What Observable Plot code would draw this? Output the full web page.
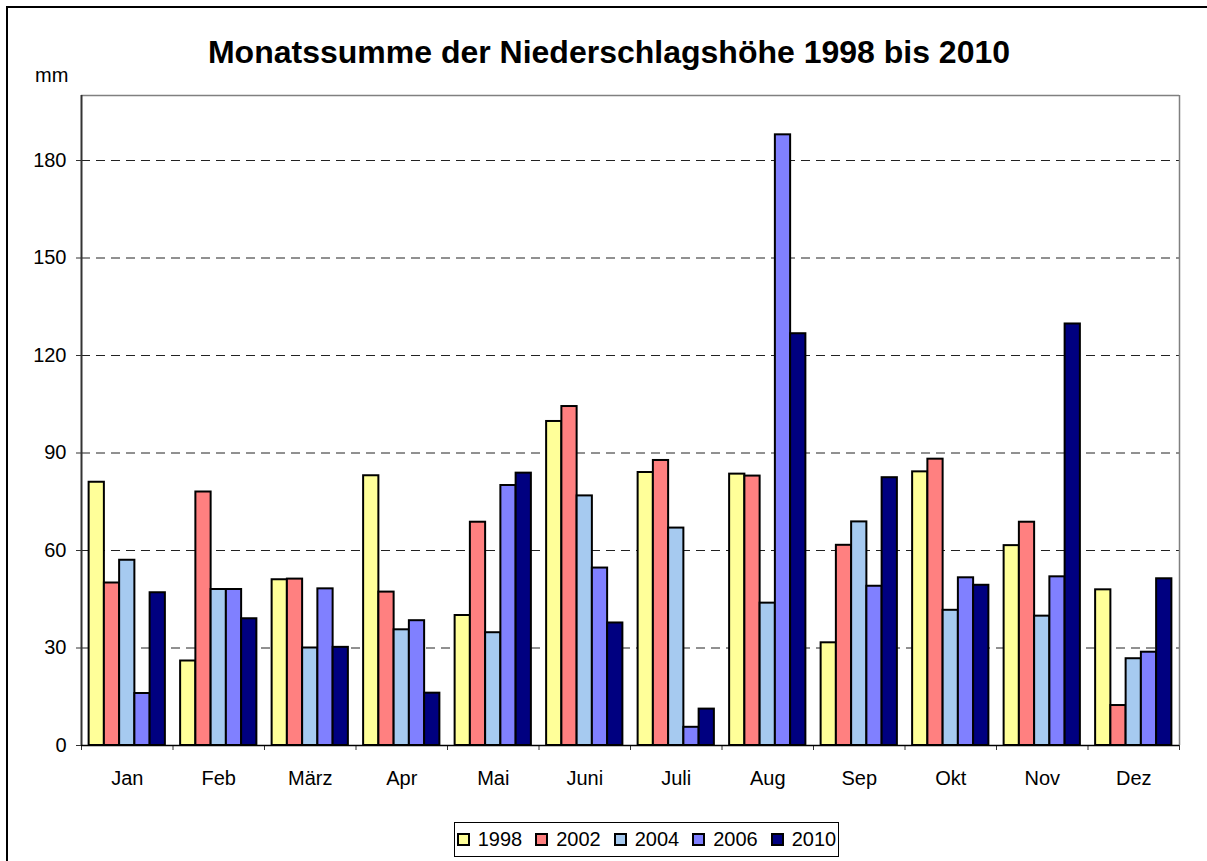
<!DOCTYPE html>
<html>
<head>
<meta charset="utf-8">
<script src="https://cdn.jsdelivr.net/npm/d3@7"></script>
<script src="https://cdn.jsdelivr.net/npm/@observablehq/plot@0.6"></script>
<style>
  html, body { margin: 0; padding: 0; background: white; overflow: hidden; }
  #wrap { position: relative; width: 1207px; height: 861px; overflow: hidden; font-family: "Liberation Sans", Arial, sans-serif; }
  #border { position: absolute; left: 6px; top: 6px; width: 1220px; height: 900px; border: 2px solid black; box-sizing: content-box; }
  #title { position: absolute; left: 0; width: 1218px; top: 36px; line-height: 32px; text-align: center; font-weight: bold; font-size: 32px; white-space: nowrap; }
  #unit { position: absolute; left: 35px; top: 65px; line-height: 20px; font-size: 20px; }
  #chart { position: absolute; left: 0; top: 0; }
  #legend { position: absolute; left: 454px; top: 822px; width: 383px; height: 33px; border: 1px solid black; display: flex; align-items: center; justify-content: center; gap: 13px; font-size: 20px; background: white; }
  .item { display: flex; align-items: center; gap: 8px; }
  .sw { width: 9px; height: 9px; border: 2px solid black; }
</style>
</head>
<body>
<div id="wrap">
  <div id="border"></div>
  <div id="chart"></div>
  <div id="title">Monatssumme der Niederschlagshöhe 1998 bis 2010</div>
  <div id="unit">mm</div>
  <div id="legend"></div>
</div>
<script>
const months = ["Jan", "Feb", "März", "Apr", "Mai", "Juni", "Juli", "Aug", "Sep", "Okt", "Nov", "Dez"];
const years = ["1998", "2002", "2004", "2006", "2010"];
const colors = ["#FFFF99", "#FF8080", "#A6CAF0", "#8080FF", "#000080"];
const v1998 = [81, 26, 51, 83, 40, 99.7, 84, 83.5, 31.6, 84.2, 61.5, 47.9];
const v2002 = [50, 78, 51.2, 47.2, 68.7, 104.3, 87.7, 82.9, 61.6, 88.1, 68.7, 12.3];
const v2004 = [57, 48, 30, 35.6, 34.7, 76.8, 66.9, 43.8, 68.8, 41.6, 39.8, 26.7];
const v2006 = [16, 48, 48.2, 38.4, 80, 54.6, 5.6, 187.9, 49, 51.6, 51.9, 28.7];
const v2010 = [47, 39, 30.2, 16.1, 83.8, 37.7, 11.2, 126.7, 82.4, 49.3, 129.7, 51.3];
const yTicks = [0, 30, 60, 90, 120, 150, 180];

const series = [v1998, v2002, v2004, v2006, v2010];
const data = years.flatMap((yr, yi) => series[yi].map((v, mi) => ({month: months[mi], mi, year: yr, yi, value: v})));
const nSlots = years.length + 1;

const plot = Plot.plot({
  width: 1207,
  height: 800,
  marginLeft: 81,
  marginRight: 28,
  marginTop: 95,
  marginBottom: 55,
  x: {domain: [0, months.length], axis: null},
  y: {domain: [0, 200], axis: null},
  color: {domain: years, range: colors},
  style: {fontFamily: "'Liberation Sans', Arial, sans-serif", fontSize: "20px", color: "black", background: "transparent"},
  marks: [
    Plot.ruleY(yTicks.filter(d => d > 0), {stroke: "#222", strokeDasharray: "9,6", strokeWidth: 1}),
    Plot.rectY(data, {
      x1: d => d.mi + (d.yi + 0.5) / nSlots,
      x2: d => d.mi + (d.yi + 1.5) / nSlots,
      y1: 0,
      y2: "value",
      fill: "year",
      stroke: "black",
      strokeWidth: 2,
      inset: 0
    }),
    Plot.axisY({ticks: yTicks, tickSize: 5, tickPadding: 10, anchor: "left", label: null, stroke: "#333"}),
    Plot.axisX({ticks: d3.range(months.length).map(i => i + 0.5), tickFormat: d => months[Math.floor(d)], tickSize: 0, tickPadding: 25, anchor: "bottom", label: null}),
    Plot.axisX({ticks: d3.range(months.length + 1), tickFormat: () => "", tickSize: 5, anchor: "bottom", label: null, stroke: "#333"}),
    Plot.ruleY([200], {stroke: "#808080", strokeWidth: 1.5}),
    Plot.ruleX([months.length], {stroke: "#808080", strokeWidth: 1.5}),
    Plot.ruleX([0], {stroke: "#333", strokeWidth: 2}),
    Plot.ruleY([0], {stroke: "black", strokeWidth: 1.5})
  ]
});
document.getElementById("chart").appendChild(plot);

const legend = document.getElementById("legend");
years.forEach((yr, i) => {
  const item = document.createElement("div");
  item.className = "item";
  const sw = document.createElement("div");
  sw.className = "sw";
  sw.style.background = colors[i];
  const lab = document.createElement("span");
  lab.textContent = yr;
  item.appendChild(sw);
  item.appendChild(lab);
  legend.appendChild(item);
});
</script>
</body>
</html>
